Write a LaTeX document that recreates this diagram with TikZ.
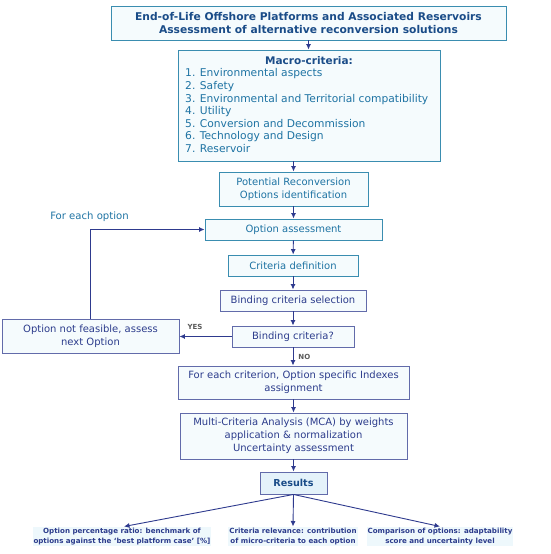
\documentclass[tikz,border=0pt]{standalone}
\usepackage{fontspec}
\setmainfont{DejaVu Sans}
\usetikzlibrary{arrows.meta}
\definecolor{tealc}{HTML}{3A8DB0}
\definecolor{tealtxt}{HTML}{1E73A3}
\definecolor{titlec}{HTML}{1A4C88}
\definecolor{navy}{HTML}{2E3A8E}
\definecolor{navytxt}{HTML}{2C3C8C}
\definecolor{boxfill}{HTML}{F5FBFD}
\definecolor{resfill}{HTML}{E4F2FA}
\definecolor{botfill}{HTML}{EEF8FC}
\tikzset{
  box/.style={draw=tealc, fill=boxfill, line width=0.9pt, inner sep=0pt, align=center, text=tealtxt, font=\fontsize{10}{13}\selectfont},
  nbox/.style={box, draw=navy!75, text=navytxt},
  arr/.style={draw=navy, line width=0.9pt, -{Latex[length=5.5pt,width=5pt]}},
  bot/.style={fill=botfill, inner sep=1pt, align=center, text=navytxt, font=\fontsize{7.1}{10}\selectfont\bfseries},
  lab/.style={text=gray!70!black, font=\fontsize{7}{8}\selectfont\bfseries, inner sep=0pt}
}
\begin{document}
\begin{tikzpicture}[x=1pt,y=-1pt]
\useasboundingbox (0,0) rectangle (550,554);
\node[box, minimum width=395pt, minimum height=34pt, text=titlec, font=\fontsize{10.7}{13}\selectfont\bfseries] (top) at (308.5,23) {End-of-Life Offshore Platforms and Associated Reservoirs\\Assessment of alternative reconversion solutions};
\node[box, minimum width=262pt, minimum height=111pt] (macro) at (309,105.5) {};
\node[text=titlec, font=\fontsize{10.5}{12}\selectfont\bfseries, inner sep=0pt] (mtitle) at (309,61) {Macro-criteria:};
\node[anchor=north west, align=left, text=tealtxt, font=\fontsize{10.7}{12.6}\selectfont, inner sep=0pt] (mlist) at (185,68.5) {1. Environmental aspects\\2. Safety\\3. Environmental and Territorial compatibility\\4. Utility\\5. Conversion and Decommission\\6. Technology and Design\\7. Reservoir};
\node[box, minimum width=149pt, minimum height=34pt] (pot) at (293.5,189) {Potential Reconversion\\Options identification};
\node[box, minimum width=177pt, minimum height=21pt] (opt) at (293.5,229.5) {Option assessment};
\node[box, minimum width=130pt, minimum height=21pt] (crit) at (293,265.5) {Criteria definition};
\node[nbox, minimum width=146pt, minimum height=21pt] (bsel) at (293,300.5) {Binding criteria selection};
\node[nbox, minimum width=122pt, minimum height=21pt] (bq) at (293,336.5) {Binding criteria?};
\node[nbox, minimum width=177pt, minimum height=34pt] (nf) at (90.5,336) {Option not feasible, assess\\next Option};
\node[nbox, minimum width=231pt, minimum height=33pt] (idx) at (293.5,382.5) {For each criterion, Option specific Indexes\\assignment};
\node[nbox, minimum width=227pt, minimum height=46pt] (mca) at (293.5,436) {Multi-Criteria Analysis (MCA) by weights\\application \& normalization\\Uncertainty assessment};
\node[nbox, fill=resfill, minimum width=67pt, minimum height=22pt, text=titlec, font=\fontsize{9.6}{12}\selectfont\bfseries] (res) at (293.5,483) {Results};
\node[text=tealtxt, font=\fontsize{10.1}{12}\selectfont, inner sep=0pt] (each) at (89.5,217) {For each option};
\node[bot, anchor=north] (b1) at (122,526.5) {Option percentage ratio: benchmark of\\options against the `best platform case' [\%]};
\node[bot, anchor=north] (b2) at (293,526.5) {Criteria relevance: contribution\\of micro-criteria to each option};
\node[bot, anchor=north] (b3) at (440,526.5) {Comparison of options: adaptability\\score and uncertainty level};
\draw[arr] (top) -- (top.south |- macro.north);
\draw[arr] (macro.south -| pot) -- (pot.north);
\draw[arr] (pot) -- (opt);
\draw[arr] (opt) -- (crit);
\draw[arr] (crit) -- (bsel);
\draw[arr] (bsel) -- (bq);
\draw[arr] (bq.west) -- (nf.east |- bq.west) node[lab, pos=0.7, above=6pt] (yes) {YES};
\draw[arr] (bq.south) -- (bq.south |- idx.north) node[lab, midway, right=5pt] (no) {NO};
\draw[arr] (nf.north) |- (opt.west);
\draw[arr] (idx) -- (mca);
\draw[arr] (mca) -- (res);
\draw[arr] (res.south) -- ([xshift=2pt]b1.north);
\draw[arr] (res.south) -- (b2.north);
\draw[arr] (res.south) -- (b3.north);
\end{tikzpicture}
\end{document}
